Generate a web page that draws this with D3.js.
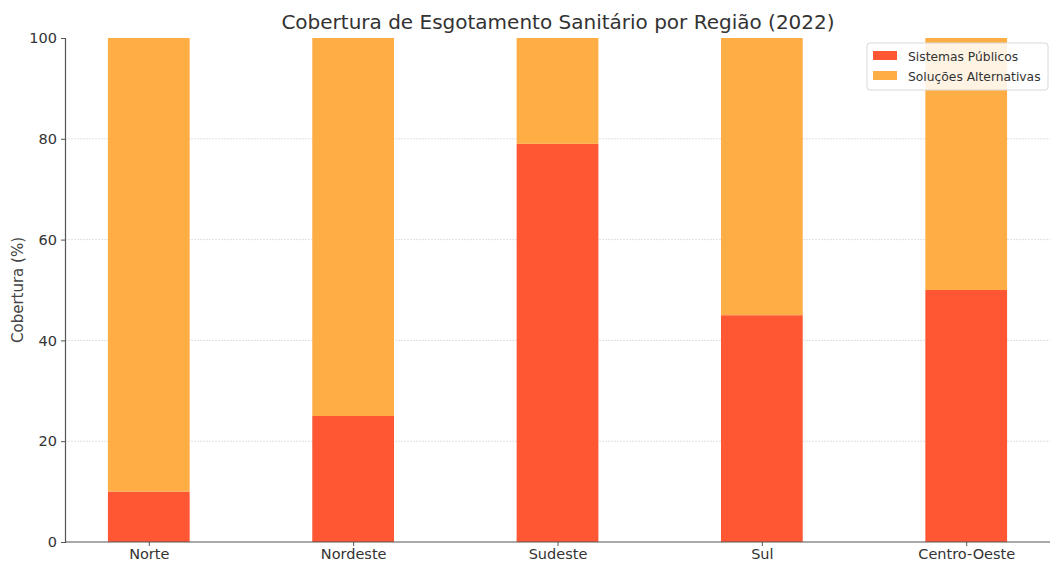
<!DOCTYPE html>
<html>
<head>
<meta charset="utf-8">
<script src="https://cdn.jsdelivr.net/npm/d3@7"></script>
<style>
  body { margin: 0; background: #fff; }
  text { font-family: "DejaVu Sans", sans-serif; fill: #333; }
</style>
</head>
<body>
<div id="chart"></div>
<script>
// dados
var regioes = ["Norte", "Nordeste", "Sudeste", "Sul", "Centro-Oeste"];
var sistemasPublicos = [10, 25, 79, 45, 50];
var solucoesAlternativas = [90, 75, 21, 55, 50];
var yTicks = [0, 20, 40, 60, 80, 100];
var serieNomes = ["Sistemas Públicos", "Soluções Alternativas"];
var serieCores = ["#ff5733", "#ffad45"];

var W = 1050, H = 562;
var margin = {left: 65, right: 0, top: 38, bottom: 20};

var svg = d3.select("#chart").append("svg")
    .attr("width", W)
    .attr("height", H);

// eixo x à moda do matplotlib: posição numérica com margem
var x = d3.scaleLinear()
    .domain([-0.41, regioes.length - 1 + 0.41])
    .range([margin.left, W - margin.right]);
var barW = x(0.4) - x(0);

var y = d3.scaleLinear()
    .domain([0, 100])
    .range([H - margin.bottom, margin.top]);

// grade (sem linha no topo)
svg.append("g")
    .selectAll("line")
    .data(yTicks.filter(function(d) { return d > 0 && d < 100; }))
    .join("line")
    .attr("x1", margin.left)
    .attr("x2", W)
    .attr("y1", function(d) { return y(d); })
    .attr("y2", function(d) { return y(d); })
    .attr("stroke", "#e0e0e0")
    .attr("stroke-width", 1)
    .attr("stroke-dasharray", "2,1");

var dados = regioes.map(function(r, i) {
    return {regiao: r, i: i, pub: sistemasPublicos[i], alt: solucoesAlternativas[i]};
});

var barras = svg.append("g");

barras.selectAll("rect.pub")
    .data(dados)
    .join("rect")
    .attr("class", "pub")
    .attr("x", function(d) { return x(d.i) - barW / 2; })
    .attr("width", barW)
    .attr("y", function(d) { return y(d.pub); })
    .attr("height", function(d) { return y(0) - y(d.pub); })
    .attr("fill", serieCores[0]);

barras.selectAll("rect.alt")
    .data(dados)
    .join("rect")
    .attr("class", "alt")
    .attr("x", function(d) { return x(d.i) - barW / 2; })
    .attr("width", barW)
    .attr("y", function(d) { return y(d.pub + d.alt); })
    .attr("height", function(d) { return y(d.pub) - y(d.pub + d.alt); })
    .attr("fill", serieCores[1]);

// eixos
var xAxis = svg.append("g")
    .attr("transform", "translate(0," + y(0) + ")")
    .call(d3.axisBottom(x)
        .tickValues(d3.range(regioes.length))
        .tickFormat(function(d) { return regioes[d]; })
        .tickSize(4)
        .tickPadding(3));

var yAxis = svg.append("g")
    .attr("transform", "translate(" + margin.left + ",0)")
    .call(d3.axisLeft(y)
        .tickValues(yTicks)
        .tickSize(4)
        .tickPadding(4));

[xAxis, yAxis].forEach(function(a) {
    a.select(".domain").attr("stroke", "#555").attr("stroke-width", 1.2);
    a.selectAll(".tick line").attr("stroke", "#555");
    a.selectAll(".tick text")
        .style("font-family", "DejaVu Sans, sans-serif")
        .style("font-size", "14.5px")
        .attr("fill", "#333");
});
xAxis.select(".domain").attr("d", "M" + margin.left + ",0H" + W);

// títulos
svg.append("text")
    .attr("x", 558)
    .attr("y", 29)
    .attr("text-anchor", "middle")
    .style("font-size", "20px")
    .text("Cobertura de Esgotamento Sanitário por Região (2022)");

svg.append("text")
    .attr("transform", "translate(23," + ((y(0) + y(100)) / 2) + ") rotate(-90)")
    .attr("text-anchor", "middle")
    .style("font-size", "15px")
    .style("fill", "#444")
    .text("Cobertura (%)");

// legenda
var leg = svg.append("g").attr("transform", "translate(867,43)");
leg.append("rect")
    .attr("width", 181)
    .attr("height", 47)
    .attr("rx", 3)
    .attr("fill", "#fff")
    .attr("fill-opacity", 0.85)
    .attr("stroke", "#d8d8d8");

var itens = leg.selectAll("g.item")
    .data(serieNomes)
    .join("g")
    .attr("class", "item")
    .attr("transform", function(d, i) { return "translate(6," + (8 + i * 20) + ")"; });

itens.append("rect")
    .attr("width", 24)
    .attr("height", 9)
    .attr("fill", function(d, i) { return serieCores[i]; });

itens.append("text")
    .attr("x", 35)
    .attr("y", 9.5)
    .style("font-size", "12.3px")
    .text(function(d) { return d; });
</script>
</body>
</html>
